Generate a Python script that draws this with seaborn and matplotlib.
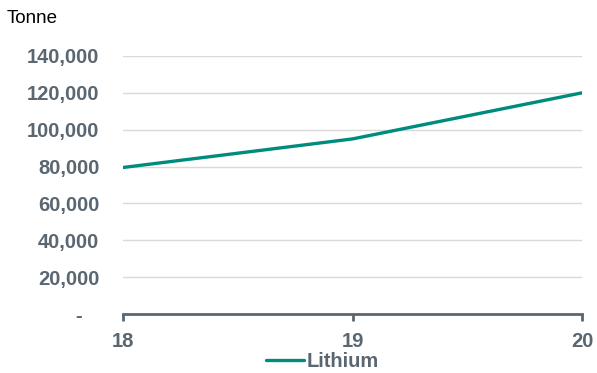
import matplotlib
matplotlib.use("Agg")
import matplotlib.pyplot as plt
import matplotlib.ticker as mticker
import seaborn as sns
import pandas as pd

years = ["18", "19", "20"]
lithium = [79500, 95000, 120000]
series_name = "Lithium"
y_ticks = [0, 20000, 40000, 60000, 80000, 100000, 120000, 140000]

sns.set_theme(style="white")
plt.rcParams['font.family'] = ['Liberation Sans', 'DejaVu Sans']

df = pd.DataFrame({"year": years, "value": lithium, "series": series_name})

fig = plt.figure(figsize=(5.97, 3.73), dpi=100)
ax = fig.add_axes([0.206, 0.158, 0.769, 0.692])

sns.lineplot(data=df, x="year", y="value", hue="series", palette=["#008C7C"],
             linewidth=2.4, ax=ax, sort=False)

text_col = "#5A6670"
ax.set_ylim(0, 140000)
ax.set_xlim(0, 2)
ax.set_yticks(y_ticks)
ax.yaxis.set_major_formatter(mticker.FuncFormatter(lambda v, p: "-   " if v == 0 else f"{int(v):,}"))
ax.grid(axis="y", color="#D9D9D9", linewidth=1)
ax.set_axisbelow(True)
for s in ["top", "right", "left"]:
    ax.spines[s].set_visible(False)
ax.spines["bottom"].set_color(text_col)
ax.spines["bottom"].set_linewidth(2)
ax.tick_params(axis="y", length=0, pad=17, labelsize=14.5, labelcolor=text_col)
ax.tick_params(axis="x", length=5, width=2, color=text_col, pad=8, labelsize=14.5, labelcolor=text_col, direction="out", bottom=True)
for lab in ax.get_xticklabels() + ax.get_yticklabels():
    lab.set_fontweight("bold")
ax.set_xlabel("")
ax.set_ylabel("")

fig.text(0.011, 0.95, "Tonne", fontsize=13.5, color="black", ha="left", va="center")

leg = ax.legend(loc="center", bbox_to_anchor=(0.540, 0.030), bbox_transform=fig.transFigure,
                frameon=False, handlelength=1.9, handletextpad=0.15, fontsize=14.5,
                borderaxespad=0, borderpad=0)
for t in leg.get_texts():
    t.set_color(text_col)
    t.set_fontweight("bold")

fig.savefig("out.png", dpi=100)
